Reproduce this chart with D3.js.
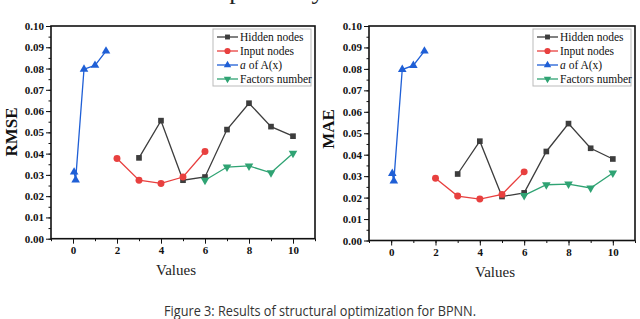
<!DOCTYPE html>
<html>
<head>
<meta charset="utf-8">
<script src="https://cdn.jsdelivr.net/npm/d3@7"></script>
<style>
  body { margin: 0; background: #fff; }
  svg { display: block; }
</style>
</head>
<body>
<div id="chart"></div>
<script>
// series data (x = parameter value, y = error)
const hiddenX = [3, 4, 5, 6, 7, 8, 9, 10];
const inputX = [2, 3, 4, 5, 6];
const alphaX = [0.05, 0.12, 0.5, 1, 1.5];
const factorX = [6, 7, 8, 9, 10];

const rmseHidden = [0.038, 0.0555, 0.0275, 0.029, 0.0513, 0.0637, 0.0527, 0.0482];
const rmseInput = [0.0377, 0.0275, 0.026, 0.029, 0.041];
const rmseAlpha = [0.0313, 0.0276, 0.0797, 0.0815, 0.0882];
const rmseFactor = [0.0275, 0.0337, 0.0342, 0.031, 0.0402];

const maeHidden = [0.031, 0.0463, 0.0205, 0.0222, 0.0415, 0.0545, 0.043, 0.038];
const maeInput = [0.029, 0.0207, 0.0193, 0.0215, 0.032];
const maeAlpha = [0.0312, 0.0277, 0.0797, 0.0816, 0.0883];
const maeFactor = [0.021, 0.026, 0.0263, 0.0245, 0.0315];

const seriesNames = ["Hidden nodes", "Input nodes", "a of A(x)", "Factors number"];
const xTicks = [0, 2, 4, 6, 8, 10];
const yTicks = [0, 0.01, 0.02, 0.03, 0.04, 0.05, 0.06, 0.07, 0.08, 0.09, 0.10];

const colors = ["#3d3d3d", "#e8403f", "#1f5fd6", "#2fa373"];
const symbols = [d3.symbolSquare, d3.symbolCircle, d3.symbolTriangle, d3.symbolTriangle];

const W = 640, H = 319;
const serif = "'Liberation Serif', 'DejaVu Serif', serif";

const svg = d3.select("#chart").append("svg")
    .attr("width", W)
    .attr("height", H);

// line of text above the figure, only its descenders remain in view
svg.append("text")
    .attr("x", 199).attr("y", -1.5)
    .attr("font-family", serif)
    .attr("font-size", 26)
    .attr("fill", "#222")
    .text("respectively");

function drawPanel(opt) {
    const x = d3.scaleLinear().domain([-1, 11]).range([opt.left, opt.right]);
    const y = d3.scaleLinear().domain([0, 0.1]).range([opt.bottom, opt.top]);
    const g = svg.append("g");

    // y axis with minor ticks
    const yMinor = d3.range(0, 0.1001, 0.005);
    g.append("g")
        .attr("transform", "translate(" + opt.left + ",0)")
        .call(d3.axisLeft(y).tickValues(yMinor).tickSize(2.5).tickFormat(""))
        .call(a => a.select(".domain").remove());
    const yAxis = g.append("g")
        .attr("transform", "translate(" + opt.left + ",0)")
        .call(d3.axisLeft(y).tickValues(yTicks).tickSize(5).tickFormat(d3.format(".2f")));
    yAxis.select(".domain").remove();
    yAxis.selectAll("text")
        .attr("x", -7)
        .attr("font-family", serif)
        .attr("font-weight", "bold")
        .attr("font-size", 11)
        .attr("fill", "#111");

    // x axis with minor ticks
    g.append("g")
        .attr("transform", "translate(0," + opt.bottom + ")")
        .call(d3.axisBottom(x).tickValues(d3.range(-1, 12, 1)).tickSize(2.5).tickFormat(""))
        .call(a => a.select(".domain").remove());
    const xAxis = g.append("g")
        .attr("transform", "translate(0," + opt.bottom + ")")
        .call(d3.axisBottom(x).tickValues(xTicks).tickSize(5).tickFormat(d3.format("d")));
    xAxis.select(".domain").remove();
    xAxis.selectAll("text")
        .attr("y", 8)
        .attr("font-family", serif)
        .attr("font-weight", "bold")
        .attr("font-size", 11)
        .attr("fill", "#111");
    g.selectAll(".tick line").attr("stroke", "#111").attr("stroke-width", 1);

    // frame
    g.append("rect")
        .attr("x", opt.left).attr("y", opt.top)
        .attr("width", opt.right - opt.left)
        .attr("height", opt.bottom - opt.top)
        .attr("fill", "none")
        .attr("stroke", "#111")
        .attr("stroke-width", 1.6);

    // axis titles
    g.append("text")
        .attr("transform", "translate(" + opt.titleX + "," + opt.titleY + ") rotate(-90)")
        .attr("text-anchor", "middle")
        .attr("font-family", serif)
        .attr("font-weight", "bold")
        .attr("font-size", 17)
        .attr("fill", "#111")
        .text(opt.yLabel);
    g.append("text")
        .attr("x", (opt.left + opt.right) / 2 - 7)
        .attr("y", opt.bottom + 36)
        .attr("text-anchor", "middle")
        .attr("font-family", serif)
        .attr("font-size", 15)
        .attr("fill", "#222")
        .text("Values");

    // series
    const line = d3.line().x(d => x(d[0])).y(d => y(d[1]));
    opt.series.forEach((s, i) => {
        const pts = s.xs.map((v, j) => [v, s.ys[j]]);
        g.append("path")
            .datum(pts)
            .attr("d", line)
            .attr("fill", "none")
            .attr("stroke", colors[i])
            .attr("stroke-width", 1.3);
        g.selectAll(".m" + i)
            .data(pts)
            .enter().append("path")
            .attr("transform", d => "translate(" + x(d[0]) + "," + y(d[1]) + ")" + (i === 3 ? " rotate(180)" : ""))
            .attr("d", d3.symbol().type(symbols[i]).size(i === 1 ? 38 : 32))
            .attr("fill", colors[i]);
    });

    // legend
    const lx = opt.right - 102, ly = opt.top + 3;
    g.append("rect")
        .attr("x", lx).attr("y", ly)
        .attr("width", 98).attr("height", 57)
        .attr("fill", "#fff")
        .attr("stroke", "#bbb")
        .attr("stroke-width", 1);
    seriesNames.forEach((name, i) => {
        const ry = ly + 8 + i * 14;
        g.append("line")
            .attr("x1", lx + 4).attr("x2", lx + 25)
            .attr("y1", ry).attr("y2", ry)
            .attr("stroke", colors[i]).attr("stroke-width", 1.3);
        g.append("path")
            .attr("transform", "translate(" + (lx + 14.5) + "," + ry + ")" + (i === 3 ? " rotate(180)" : ""))
            .attr("d", d3.symbol().type(symbols[i]).size(i === 1 ? 30 : 24))
            .attr("fill", colors[i]);
        const t = g.append("text")
            .attr("x", lx + 27).attr("y", ry + 4)
            .attr("font-family", serif)
            .attr("font-size", 11.5)
            .attr("fill", "#111");
        if (i === 2) {
            t.append("tspan").attr("font-style", "italic").text("a");
            t.append("tspan").text(" of A(x)");
        } else {
            t.text(name);
        }
    });
}

drawPanel({
    left: 51, right: 315, top: 26, bottom: 238.7,
    titleX: 17, titleY: 132, yLabel: "RMSE",
    series: [
        { xs: hiddenX, ys: rmseHidden },
        { xs: inputX, ys: rmseInput },
        { xs: alphaX, ys: rmseAlpha },
        { xs: factorX, ys: rmseFactor }
    ]
});

drawPanel({
    left: 369, right: 635, top: 26, bottom: 240.5,
    titleX: 334, titleY: 129, yLabel: "MAE",
    series: [
        { xs: hiddenX, ys: maeHidden },
        { xs: inputX, ys: maeInput },
        { xs: alphaX, ys: maeAlpha },
        { xs: factorX, ys: maeFactor }
    ]
});

// caption
svg.append("text")
    .attr("x", 320).attr("y", 316)
    .attr("text-anchor", "middle")
    .attr("font-family", "'Open Sans', 'Noto Sans', sans-serif")
    .attr("font-size", 14)
    .attr("textLength", 312)
    .attr("lengthAdjust", "spacingAndGlyphs")
    .attr("fill", "#333")
    .text("Figure 3: Results of structural optimization for BPNN.")
</script>
</body>
</html>
